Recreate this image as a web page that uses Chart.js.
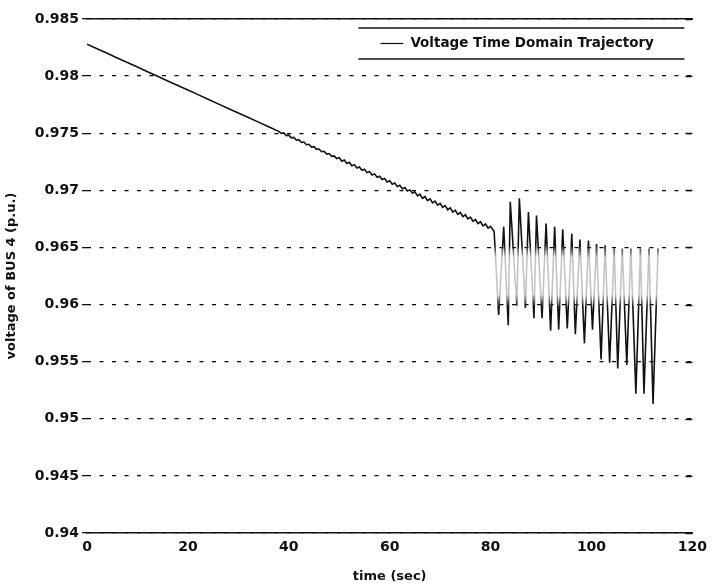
<!DOCTYPE html>
<html>
<head>
<meta charset="utf-8">
<title>Voltage of BUS 4</title>
<script src="https://cdn.jsdelivr.net/npm/chart.js@4.4.0/dist/chart.umd.min.js"></script>
<style>
    html, body { margin: 0; padding: 0; background: #fff; }
    canvas { display: block; }
</style>
</head>
<body>
<canvas id="voltage-chart" width="713" height="584"></canvas>
<script>
const xTicks = [0, 20, 40, 60, 80, 100, 120];
const yTicks = [0.94, 0.945, 0.95, 0.955, 0.96, 0.965, 0.97, 0.975, 0.98, 0.985];

// slow decline at the start of the run
const driftTime = [0, 2, 4, 6, 8, 10, 12, 14, 16, 18, 20, 22, 24, 26, 28, 30, 32, 34, 36, 38];
const driftVolt = [0.9828, 0.9824, 0.9820, 0.98159, 0.98119, 0.98079, 0.98039, 0.97999, 0.97958, 0.97918,
    0.97878, 0.97838, 0.97798, 0.97757, 0.97717, 0.97677, 0.97637, 0.97597, 0.97556, 0.97516];

// small ripple riding on the decline
const rippleTime = [38.5, 39, 39.5, 40, 40.5, 41, 41.5, 42, 42.5, 43, 43.5, 44, 44.5, 45, 45.5, 46, 46.5, 47, 47.5, 48,
    48.5, 49, 49.5, 50, 50.5, 51, 51.5, 52, 52.5, 53, 53.5, 54, 54.5, 55, 55.5, 56, 56.5, 57, 57.5, 58,
    58.5, 59, 59.5, 60, 60.5, 61, 61.5, 62, 62.5, 63, 63.5, 64, 64.5, 65, 65.5, 66, 66.5, 67, 67.5, 68,
    68.5, 69, 69.5, 70, 70.5, 71, 71.5, 72, 72.5, 73, 73.5, 74, 74.5, 75, 75.5, 76, 76.5, 77, 77.5, 78,
    78.5, 79, 79.5, 80];
const rippleVolt = [0.97499, 0.97503, 0.97479, 0.97483, 0.97459, 0.97463, 0.97439, 0.97443, 0.97419, 0.97423,
    0.97399, 0.97403, 0.97379, 0.97382, 0.97359, 0.97362, 0.97338, 0.97342, 0.97318, 0.97322,
    0.97298, 0.97302, 0.97278, 0.97285, 0.97255, 0.97265, 0.97235, 0.97245, 0.97215, 0.97225,
    0.97195, 0.97205, 0.97175, 0.97185, 0.97155, 0.97164, 0.97134, 0.97144, 0.97114, 0.97124,
    0.97094, 0.97104, 0.97074, 0.97084, 0.97054, 0.97064, 0.97034, 0.97044, 0.97014, 0.97024,
    0.96994, 0.97004, 0.96974, 0.96987, 0.96951, 0.96966, 0.96930, 0.96946, 0.96910, 0.96926,
    0.96890, 0.96906, 0.96870, 0.96886, 0.96850, 0.96866, 0.96830, 0.96846, 0.96810, 0.96826,
    0.96790, 0.96806, 0.96770, 0.96786, 0.96750, 0.96765, 0.96729, 0.96745, 0.96709, 0.96725,
    0.96689, 0.96705, 0.96669, 0.96685];

// large swing after t = 80 s (alternating peaks and troughs)
const swingTime = [80.7, 81.6, 82.6, 83.5, 83.9, 85.2, 85.7, 86.9, 87.5, 88.6, 89.1, 90.2, 91.0, 91.9, 92.7,
    93.5, 94.3, 95.2, 96.1, 96.8, 97.7, 98.6, 99.4, 100.2, 101.0, 101.9, 102.7, 103.6, 104.5,
    105.2, 106.1, 107.0, 107.8, 108.8, 109.7, 110.4, 111.4, 112.2, 113.2];
const swingVolt = [0.9664, 0.9591, 0.9668, 0.9582, 0.9690, 0.9599, 0.9693, 0.9597, 0.9681, 0.9588, 0.9678,
    0.9588, 0.9671, 0.9577, 0.9668, 0.9578, 0.9666, 0.9579, 0.9662, 0.9574, 0.9657, 0.9566,
    0.9656, 0.9578, 0.9653, 0.9552, 0.9652, 0.9549, 0.9649, 0.9544, 0.9649, 0.9547, 0.9649,
    0.9522, 0.9649, 0.9522, 0.9649, 0.9513, 0.9649];

const serieLabel = 'Voltage Time Domain Trajectory';
const fontFamily = '"DejaVu Sans", "Liberation Sans", Arial, sans-serif';

function toPoints(times, volts) {
    return times.map((t, i) => ({ x: t, y: volts[i] }));
}

const puntos = [
    ...toPoints(driftTime, driftVolt),
    ...toPoints(rippleTime, rippleVolt),
    ...toPoints(swingTime, swingVolt)
];

// the middle of the swing band prints faintly, the extremes dark
let trazoGradient = null;
function trazoColor(context) {
    const chart = context.chart;
    if (!chart.chartArea) return '#111';
    if (!trazoGradient) {
        const y = chart.scales.y;
        trazoGradient = chart.ctx.createLinearGradient(0, y.getPixelForValue(0.9652), 0, y.getPixelForValue(0.9598));
        trazoGradient.addColorStop(0, '#111');
        trazoGradient.addColorStop(0.2, '#c4c4c4');
        trazoGradient.addColorStop(0.8, '#c4c4c4');
        trazoGradient.addColorStop(1, '#111');
    }
    return trazoGradient;
}

// legend box with only top and bottom rules, plus short ticks at the right end of each grid line
const legendaPlugin = {
    id: 'legendaCaja',
    afterDraw(chart) {
        const { ctx, chartArea, scales } = chart;
        ctx.save();

        ctx.strokeStyle = '#111';
        ctx.lineWidth = 1.5;
        scales.y.ticks.forEach(tick => {
            const py = Math.round(scales.y.getPixelForValue(tick.value)) + 0.5;
            ctx.beginPath();
            ctx.moveTo(chartArea.right - 7, py);
            ctx.lineTo(chartArea.right, py);
            ctx.stroke();
        });

        const left = chartArea.right - 334;
        const right = chartArea.right - 8;
        const top = chartArea.top + 9;
        const bottom = chartArea.top + 40;
        const mid = (top + bottom) / 2;

        ctx.fillStyle = '#fff';
        ctx.fillRect(left, top, right - left, bottom - top);
        ctx.lineWidth = 1.5;
        ctx.beginPath();
        ctx.moveTo(left, top); ctx.lineTo(right, top);
        ctx.moveTo(left, bottom); ctx.lineTo(right, bottom);
        ctx.stroke();

        ctx.lineWidth = 1.2;
        ctx.beginPath();
        ctx.moveTo(left + 22, mid); ctx.lineTo(left + 45, mid);
        ctx.stroke();

        ctx.fillStyle = '#111';
        ctx.font = 'bold 13.5px ' + fontFamily;
        ctx.textAlign = 'left';
        ctx.textBaseline = 'middle';
        ctx.fillText(serieLabel, left + 52, mid);
        ctx.restore();
    }
};

const ctx = document.getElementById('voltage-chart').getContext('2d');
new Chart(ctx, {
    type: 'line',
    data: {
        datasets: [{
            label: serieLabel,
            data: puntos,
            borderColor: trazoColor,
            borderWidth: 1.6,
            pointRadius: 0,
            tension: 0,
            fill: false
        }]
    },
    options: {
        responsive: false,
        animation: false,
        layout: { padding: { top: 19, right: 19, bottom: 0, left: 0 } },
        plugins: {
            legend: { display: false },
            tooltip: { enabled: false }
        },
        scales: {
            x: {
                type: 'linear',
                min: 0,
                max: 120,
                afterBuildTicks: scale => { scale.ticks = xTicks.map(v => ({ value: v })); },
                afterFit: scale => { scale.height = 51; },
                ticks: {
                    color: '#111',
                    padding: 6,
                    font: { family: fontFamily, size: 14, weight: 'bold' }
                },
                grid: { drawOnChartArea: false, drawTicks: false },
                border: { display: true, color: '#111', width: 1.5 },
                title: {
                    display: true,
                    text: 'time (sec)',
                    color: '#111',
                    padding: { top: 0, bottom: 0 },
                    font: { family: fontFamily, size: 13, weight: 'bold' }
                }
            },
            xTop: {
                type: 'linear',
                position: 'top',
                min: 0,
                max: 120,
                afterFit: scale => { scale.height = 0; },
                ticks: { display: false },
                grid: { drawOnChartArea: false, drawTicks: false },
                border: { display: true, color: '#111', width: 1.5 }
            },
            y: {
                type: 'linear',
                min: 0.94,
                max: 0.985,
                afterBuildTicks: scale => { scale.ticks = yTicks.map(v => ({ value: v })); },
                afterFit: scale => { scale.width = 87; },
                ticks: {
                    color: '#111',
                    padding: 3,
                    font: { family: fontFamily, size: 14, weight: 'bold' },
                    callback: value => String(+value.toFixed(3))
                },
                grid: {
                    color: '#000',
                    lineWidth: 1.3,
                    drawTicks: true,
                    tickLength: 5,
                    tickColor: '#111'
                },
                border: { display: false, dash: [4, 8.5] },
                title: {
                    display: true,
                    text: 'voltage of BUS 4 (p.u.)',
                    color: '#111',
                    padding: { top: 4, bottom: 0 },
                    font: { family: fontFamily, size: 13, weight: 'bold' }
                }
            }
        }
    },
    plugins: [legendaPlugin]
});
</script>
</body>
</html>
